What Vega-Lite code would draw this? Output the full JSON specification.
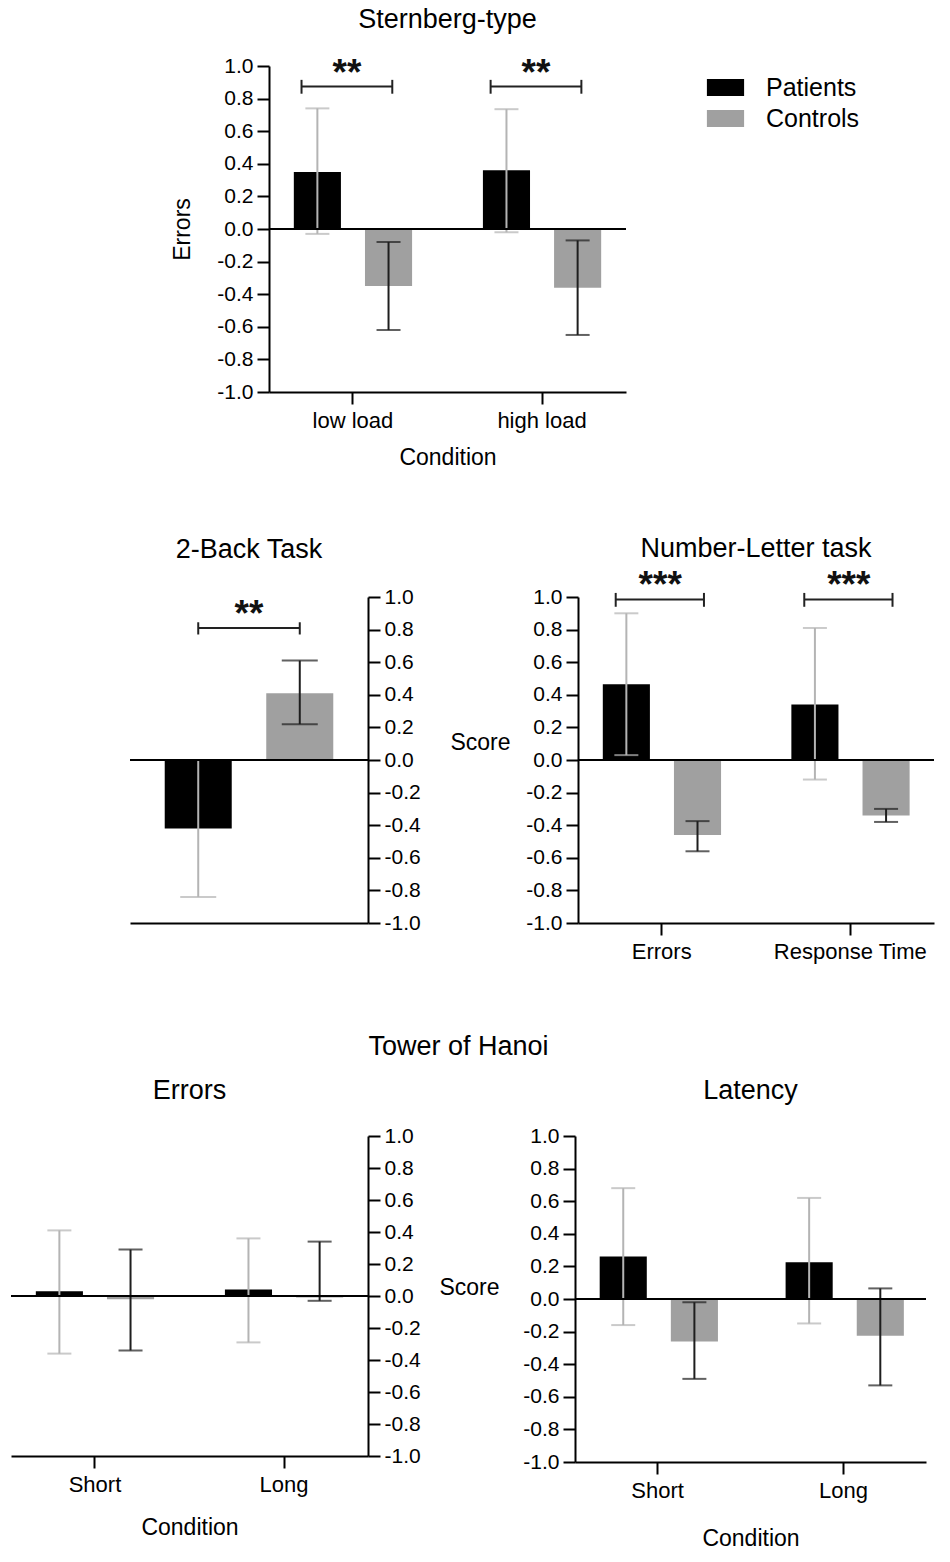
{
  "$schema": "https://vega.github.io/schema/vega-lite/v6.json",
  "padding": {"left": 10, "top": 5, "right": 5, "bottom": 5},
  "config": {
    "font": "Liberation Sans",
    "view": {"stroke": null},
    "axis": {"grid": false, "domainColor": "#000", "domainWidth": 2, "tickColor": "#000", "tickWidth": 2, "tickSize": 12, "labelFontSize": 21, "labelColor": "#000", "labelFont": "Liberation Sans", "titleFontSize": 23, "titleFontWeight": "normal", "titleColor": "#000", "titleFont": "Liberation Sans", "labelPadding": 4, "labelOverlap": false},
    "axisX": {"labelFontSize": 22, "labelPadding": 6, "titlePadding": 17, "labelAngle": 0},
    "title": {"fontSize": 27, "fontWeight": "normal", "color": "#000", "font": "Liberation Sans", "frame": "group", "anchor": "middle", "offset": 24}
  },
  "spacing": 66,
  "resolve": {"scale": {"color": "independent", "fill": "independent", "stroke": "independent"}},
  "vconcat": [
    {
      "hconcat": [
        {"width": 258, "height": 10, "data": {"values": []}, "mark": {"type": "point", "opacity": 0}},
        {
          "width": 357, "height": 326,
          "title": {"text": "Sternberg-type", "offset": 21},
          "data": {"values": [
            {"Condition": "low load", "Group": "Patients", "mean": 0.35, "lo": -0.03, "hi": 0.74},
            {"Condition": "low load", "Group": "Controls", "mean": -0.35, "lo": -0.62, "hi": -0.08},
            {"Condition": "high load", "Group": "Patients", "mean": 0.36, "lo": -0.02, "hi": 0.735},
            {"Condition": "high load", "Group": "Controls", "mean": -0.36, "lo": -0.65, "hi": -0.07}
          ]},
          "layer": [
            {
              "encoding": {
                "x": {"field": "Condition", "type": "nominal", "sort": ["low load", "high load"], "scale": {"domain": ["low load", "high load"], "paddingInner": 0.2, "paddingOuter": 0.044}, "axis": {"title": "Condition", "titlePadding": 15}},
                "xOffset": {"field": "Group", "type": "nominal", "sort": ["Patients", "Controls"], "scale": {"domain": ["Patients", "Controls"], "paddingInner": 0.338, "paddingOuter": 0.232}}
              },
              "layer": [
                {"mark": {"type": "bar"}, "encoding": {
                  "y": {"field": "mean", "type": "quantitative", "scale": {"domain": [-1, 1]}, "axis": {"title": "Errors", "tickCount": 11, "values": [-1, -0.8, -0.6, -0.4, -0.2, 0, 0.2, 0.4, 0.6, 0.8, 1], "labelExpr": "replace(format(datum.value, '.1f'), '\u2212', '-')", "titlePadding": 22}},
                  "color": {"field": "Group", "type": "nominal", "scale": {"domain": ["Patients", "Controls"], "range": ["#000000", "#a0a0a0"]}, "legend": {"orient": "none", "legendX": 441, "legendY": 6, "title": null, "symbolType": "M-1.2,-0.55H1.2V0.55H-1.2Z", "symbolSize": 961, "labelFontSize": 25, "labelOffset": 25, "rowPadding": 2, "padding": 0, "symbolStrokeWidth": 0, "labelColor": "#000", "labelFont": "Liberation Sans", "labelLimit": 300}}
                }},
                {"mark": {"type": "rule", "strokeWidth": 2}, "encoding": {
                  "y": {"field": "lo", "type": "quantitative", "title": "Errors"}, "y2": {"field": "hi"},
                  "stroke": {"field": "Group", "type": "nominal", "scale": {"domain": ["Patients", "Controls"], "range": ["#b4b4b4", "#1e1e1e"]}, "legend": null}
                }},
                {"mark": {"type": "tick", "size": 24, "thickness": 2}, "encoding": {
                  "y": {"field": "hi", "type": "quantitative", "title": "Errors"},
                  "fill": {"field": "Group", "type": "nominal", "scale": {"domain": ["Patients", "Controls"], "range": ["#b4b4b4", "#1e1e1e"]}, "legend": null}
                }},
                {"mark": {"type": "tick", "size": 24, "thickness": 2}, "encoding": {
                  "y": {"field": "lo", "type": "quantitative", "title": "Errors"},
                  "fill": {"field": "Group", "type": "nominal", "scale": {"domain": ["Patients", "Controls"], "range": ["#b4b4b4", "#1e1e1e"]}, "legend": null}
                }}
              ]
            },
            {"data": {"values": [{"baseline": 0}]}, "mark": {"type": "rule", "strokeWidth": 2, "color": "#000"}, "encoding": {"y": {"field": "baseline", "type": "quantitative", "title": "Errors"}}},
            {
              "data": {"values": [
                {"Condition": "low load", "y": 0.875, "ylo": 0.83, "yhi": 0.915, "ty": 0.885, "label": "**"},
                {"Condition": "high load", "y": 0.875, "ylo": 0.83, "yhi": 0.915, "ty": 0.885, "label": "**"}
              ]},
              "layer": [
                {"mark": {"type": "rule", "strokeWidth": 2, "color": "#222"}, "encoding": {
                  "x": {"field": "Condition", "type": "nominal", "sort": ["low load", "high load"], "bandPosition": 0.16},
                  "x2": {"field": "Condition", "bandPosition": 0.76},
                  "y": {"field": "y", "type": "quantitative", "title": "Errors"}
                }},
                {"mark": {"type": "rule", "strokeWidth": 2, "color": "#222"}, "encoding": {
                  "x": {"field": "Condition", "type": "nominal", "sort": ["low load", "high load"], "bandPosition": 0.16},
                  "y": {"field": "ylo", "type": "quantitative", "title": "Errors"}, "y2": {"field": "yhi"}
                }},
                {"mark": {"type": "rule", "strokeWidth": 2, "color": "#222"}, "encoding": {
                  "x": {"field": "Condition", "type": "nominal", "sort": ["low load", "high load"], "bandPosition": 0.76},
                  "y": {"field": "ylo", "type": "quantitative", "title": "Errors"}, "y2": {"field": "yhi"}
                }},
                {"mark": {"type": "text", "fontSize": 37, "fontWeight": "bold", "baseline": "alphabetic", "color": "#111"}, "encoding": {
                  "x": {"field": "Condition", "type": "nominal", "sort": ["low load", "high load"], "bandPosition": 0.46},
                  "y": {"field": "ty", "type": "quantitative", "title": "Errors"},
                  "text": {"field": "label"}
                }}
              ]
            }
          ]
        }
      ],
      "spacing": 0,
      "bounds": "flush",
      "resolve": {"scale": {"color": "independent", "fill": "independent", "stroke": "independent"}}
    },
    {
      "vconcat": [
        {
          "hconcat": [
            {"width": 118, "height": 10, "data": {"values": []}, "mark": {"type": "point", "opacity": 0}},
            {
              "hconcat": [
                {
                  "width": 238, "height": 326,
                  "title": {"text": "2-Back Task", "offset": 22},
                  "data": {"values": [
                    {"Group": "Patients", "mean": -0.42, "lo": -0.84, "hi": 0.0},
                    {"Group": "Controls", "mean": 0.41, "lo": 0.22, "hi": 0.61}
                  ]},
                  "layer": [
                    {
                      "encoding": {
                        "x": {"field": "Group", "type": "nominal", "sort": ["Patients", "Controls"], "scale": {"domain": ["Patients", "Controls"], "paddingInner": 0.34, "paddingOuter": 0.342}, "axis": {"title": null, "labels": false, "ticks": false}}
                      },
                      "layer": [
                        {"mark": {"type": "bar"}, "encoding": {
                          "y": {"field": "mean", "type": "quantitative", "scale": {"domain": [-1, 1]}, "axis": {"orient": "right", "title": null, "tickCount": 11, "values": [-1, -0.8, -0.6, -0.4, -0.2, 0, 0.2, 0.4, 0.6, 0.8, 1], "labelExpr": "replace(format(datum.value, '.1f'), '\u2212', '-')"}},
                          "color": {"field": "Group", "type": "nominal", "scale": {"domain": ["Patients", "Controls"], "range": ["#000000", "#a0a0a0"]}, "legend": null}
                        }},
                        {"mark": {"type": "rule", "strokeWidth": 2}, "encoding": {
                          "y": {"field": "lo", "type": "quantitative", "title": null}, "y2": {"field": "hi"},
                          "stroke": {"field": "Group", "type": "nominal", "scale": {"domain": ["Patients", "Controls"], "range": ["#b4b4b4", "#1e1e1e"]}, "legend": null}
                        }},
                        {"mark": {"type": "tick", "size": 36, "thickness": 2}, "encoding": {
                          "y": {"field": "hi", "type": "quantitative", "title": null},
                          "fill": {"field": "Group", "type": "nominal", "scale": {"domain": ["Patients", "Controls"], "range": ["#b4b4b4", "#1e1e1e"]}, "legend": null}
                        }},
                        {"mark": {"type": "tick", "size": 36, "thickness": 2}, "encoding": {
                          "y": {"field": "lo", "type": "quantitative", "title": null},
                          "fill": {"field": "Group", "type": "nominal", "scale": {"domain": ["Patients", "Controls"], "range": ["#b4b4b4", "#1e1e1e"]}, "legend": null}
                        }}
                      ]
                    },
                    {"data": {"values": [{"baseline": 0}]}, "mark": {"type": "rule", "strokeWidth": 2, "color": "#000"}, "encoding": {"y": {"field": "baseline", "type": "quantitative", "title": null}}},
                    {
                      "data": {"values": [
                        {"from": "Patients", "to": "Controls", "y": 0.81, "ylo": 0.77, "yhi": 0.845, "ty": 0.82, "label": "**"}
                      ]},
                      "layer": [
                        {"mark": {"type": "rule", "strokeWidth": 2, "color": "#222"}, "encoding": {
                          "x": {"field": "from", "type": "nominal", "bandPosition": 0.5},
                          "x2": {"field": "to", "bandPosition": 0.5},
                          "y": {"field": "y", "type": "quantitative", "title": null}
                        }},
                        {"mark": {"type": "rule", "strokeWidth": 2, "color": "#222"}, "encoding": {
                          "x": {"field": "from", "type": "nominal", "bandPosition": 0.5},
                          "y": {"field": "ylo", "type": "quantitative", "title": null}, "y2": {"field": "yhi"}
                        }},
                        {"mark": {"type": "rule", "strokeWidth": 2, "color": "#222"}, "encoding": {
                          "x": {"field": "to", "type": "nominal", "bandPosition": 0.5},
                          "y": {"field": "ylo", "type": "quantitative", "title": null}, "y2": {"field": "yhi"}
                        }},
                        {"mark": {"type": "text", "fontSize": 37, "fontWeight": "bold", "baseline": "alphabetic", "color": "#111"}, "encoding": {
                          "y": {"field": "ty", "type": "quantitative", "title": null},
                          "text": {"field": "label"}
                        }}
                      ]
                    }
                  ]
                },
                {
                  "width": 356, "height": 326,
                  "title": {"text": "Number-Letter task", "offset": 4},
                  "data": {"values": [
                    {"Condition": "Errors", "Group": "Patients", "mean": 0.465, "lo": 0.03, "hi": 0.9},
                    {"Condition": "Errors", "Group": "Controls", "mean": -0.46, "lo": -0.56, "hi": -0.375},
                    {"Condition": "Response Time", "Group": "Patients", "mean": 0.34, "lo": -0.12, "hi": 0.81},
                    {"Condition": "Response Time", "Group": "Controls", "mean": -0.34, "lo": -0.38, "hi": -0.3}
                  ]},
                  "layer": [
                    {
                      "encoding": {
                        "x": {"field": "Condition", "type": "nominal", "sort": ["Errors", "Response Time"], "scale": {"domain": ["Errors", "Response Time"], "paddingInner": 0.2, "paddingOuter": 0.044}, "axis": {"title": null}},
                        "xOffset": {"field": "Group", "type": "nominal", "sort": ["Patients", "Controls"], "scale": {"domain": ["Patients", "Controls"], "paddingInner": 0.338, "paddingOuter": 0.232}}
                      },
                      "layer": [
                        {"mark": {"type": "bar"}, "encoding": {
                          "y": {"field": "mean", "type": "quantitative", "scale": {"domain": [-1, 1]}, "axis": {"title": "Score", "titleAngle": 0, "titleAlign": "center", "titleBaseline": "middle", "titleX": -98, "titleY": 145, "tickCount": 11, "values": [-1, -0.8, -0.6, -0.4, -0.2, 0, 0.2, 0.4, 0.6, 0.8, 1], "labelExpr": "replace(format(datum.value, '.1f'), '\u2212', '-')"}},
                          "color": {"field": "Group", "type": "nominal", "scale": {"domain": ["Patients", "Controls"], "range": ["#000000", "#a0a0a0"]}, "legend": null}
                        }},
                        {"mark": {"type": "rule", "strokeWidth": 2}, "encoding": {
                          "y": {"field": "lo", "type": "quantitative", "title": "Score"}, "y2": {"field": "hi"},
                          "stroke": {"field": "Group", "type": "nominal", "scale": {"domain": ["Patients", "Controls"], "range": ["#b4b4b4", "#1e1e1e"]}, "legend": null}
                        }},
                        {"mark": {"type": "tick", "size": 24, "thickness": 2}, "encoding": {
                          "y": {"field": "hi", "type": "quantitative", "title": "Score"},
                          "fill": {"field": "Group", "type": "nominal", "scale": {"domain": ["Patients", "Controls"], "range": ["#b4b4b4", "#1e1e1e"]}, "legend": null}
                        }},
                        {"mark": {"type": "tick", "size": 24, "thickness": 2}, "encoding": {
                          "y": {"field": "lo", "type": "quantitative", "title": "Score"},
                          "fill": {"field": "Group", "type": "nominal", "scale": {"domain": ["Patients", "Controls"], "range": ["#b4b4b4", "#1e1e1e"]}, "legend": null}
                        }}
                      ]
                    },
                    {"data": {"values": [{"baseline": 0}]}, "mark": {"type": "rule", "strokeWidth": 2, "color": "#000"}, "encoding": {"y": {"field": "baseline", "type": "quantitative", "title": "Score"}}},
                    {
                      "data": {"values": [
                        {"Condition": "Errors", "y": 0.985, "ylo": 0.94, "yhi": 1.025, "ty": 1.0, "label": "***"},
                        {"Condition": "Response Time", "y": 0.985, "ylo": 0.94, "yhi": 1.025, "ty": 1.0, "label": "***"}
                      ]},
                      "layer": [
                        {"mark": {"type": "rule", "strokeWidth": 2, "color": "#222"}, "encoding": {
                          "x": {"field": "Condition", "type": "nominal", "sort": ["Errors", "Response Time"], "bandPosition": 0.195},
                          "x2": {"field": "Condition", "bandPosition": 0.78},
                          "y": {"field": "y", "type": "quantitative", "title": "Score"}
                        }},
                        {"mark": {"type": "rule", "strokeWidth": 2, "color": "#222"}, "encoding": {
                          "x": {"field": "Condition", "type": "nominal", "sort": ["Errors", "Response Time"], "bandPosition": 0.195},
                          "y": {"field": "ylo", "type": "quantitative", "title": "Score"}, "y2": {"field": "yhi"}
                        }},
                        {"mark": {"type": "rule", "strokeWidth": 2, "color": "#222"}, "encoding": {
                          "x": {"field": "Condition", "type": "nominal", "sort": ["Errors", "Response Time"], "bandPosition": 0.78},
                          "y": {"field": "ylo", "type": "quantitative", "title": "Score"}, "y2": {"field": "yhi"}
                        }},
                        {"mark": {"type": "text", "fontSize": 37, "fontWeight": "bold", "baseline": "alphabetic", "color": "#111"}, "encoding": {
                          "x": {"field": "Condition", "type": "nominal", "sort": ["Errors", "Response Time"], "bandPosition": 0.49},
                          "y": {"field": "ty", "type": "quantitative", "title": "Score"},
                          "text": {"field": "label"}
                        }}
                      ]
                    }
                  ]
                }
              ],
              "spacing": 210,
              "bounds": "flush",
              "resolve": {"scale": {"color": "independent", "fill": "independent", "stroke": "independent"}}
            }
          ],
          "spacing": 0,
          "resolve": {"scale": {"color": "independent", "fill": "independent", "stroke": "independent"}}
        },
        {
          "title": {"text": "Tower of Hanoi", "offset": 16, "dx": -10, "frame": "bounds"},
          "hconcat": [
            {
              "width": 357, "height": 320,
              "title": {"text": "Errors", "offset": 20},
              "data": {"values": [
                {"Condition": "Short", "Group": "Patients", "mean": 0.03, "lo": -0.36, "hi": 0.41},
                {"Condition": "Short", "Group": "Controls", "mean": -0.02, "lo": -0.34, "hi": 0.29},
                {"Condition": "Long", "Group": "Patients", "mean": 0.04, "lo": -0.29, "hi": 0.36},
                {"Condition": "Long", "Group": "Controls", "mean": -0.01, "lo": -0.03, "hi": 0.34}
              ]},
              "layer": [
                {
                  "encoding": {
                    "x": {"field": "Condition", "type": "nominal", "sort": ["Short", "Long"], "scale": {"domain": ["Short", "Long"], "paddingInner": 0.2, "paddingOuter": 0.044}, "axis": {"title": "Condition", "titlePadding": 21}},
                    "xOffset": {"field": "Group", "type": "nominal", "sort": ["Patients", "Controls"], "scale": {"domain": ["Patients", "Controls"], "paddingInner": 0.338, "paddingOuter": 0.232}}
                  },
                  "layer": [
                    {"mark": {"type": "bar"}, "encoding": {
                      "y": {"field": "mean", "type": "quantitative", "scale": {"domain": [-1, 1]}, "axis": {"orient": "right", "title": null, "tickCount": 11, "values": [-1, -0.8, -0.6, -0.4, -0.2, 0, 0.2, 0.4, 0.6, 0.8, 1], "labelExpr": "replace(format(datum.value, '.1f'), '\u2212', '-')"}},
                      "color": {"field": "Group", "type": "nominal", "scale": {"domain": ["Patients", "Controls"], "range": ["#000000", "#a0a0a0"]}, "legend": null}
                    }},
                    {"mark": {"type": "rule", "strokeWidth": 2}, "encoding": {
                      "y": {"field": "lo", "type": "quantitative", "title": null}, "y2": {"field": "hi"},
                      "stroke": {"field": "Group", "type": "nominal", "scale": {"domain": ["Patients", "Controls"], "range": ["#b4b4b4", "#1e1e1e"]}, "legend": null}
                    }},
                    {"mark": {"type": "tick", "size": 24, "thickness": 2}, "encoding": {
                      "y": {"field": "hi", "type": "quantitative", "title": null},
                      "fill": {"field": "Group", "type": "nominal", "scale": {"domain": ["Patients", "Controls"], "range": ["#b4b4b4", "#1e1e1e"]}, "legend": null}
                    }},
                    {"mark": {"type": "tick", "size": 24, "thickness": 2}, "encoding": {
                      "y": {"field": "lo", "type": "quantitative", "title": null},
                      "fill": {"field": "Group", "type": "nominal", "scale": {"domain": ["Patients", "Controls"], "range": ["#b4b4b4", "#1e1e1e"]}, "legend": null}
                    }}
                  ]
                },
                {"data": {"values": [{"baseline": 0}]}, "mark": {"type": "rule", "strokeWidth": 2, "color": "#000"}, "encoding": {"y": {"field": "baseline", "type": "quantitative", "title": null}}}
              ]
            },
            {
              "width": 351, "height": 326,
              "title": {"text": "Latency", "offset": 20},
              "data": {"values": [
                {"Condition": "Short", "Group": "Patients", "mean": 0.26, "lo": -0.16, "hi": 0.68},
                {"Condition": "Short", "Group": "Controls", "mean": -0.26, "lo": -0.49, "hi": -0.02},
                {"Condition": "Long", "Group": "Patients", "mean": 0.225, "lo": -0.15, "hi": 0.62},
                {"Condition": "Long", "Group": "Controls", "mean": -0.225, "lo": -0.53, "hi": 0.065}
              ]},
              "layer": [
                {
                  "encoding": {
                    "x": {"field": "Condition", "type": "nominal", "sort": ["Short", "Long"], "scale": {"domain": ["Short", "Long"], "paddingInner": 0.2, "paddingOuter": 0.044}, "axis": {"title": "Condition", "titlePadding": 26}},
                    "xOffset": {"field": "Group", "type": "nominal", "sort": ["Patients", "Controls"], "scale": {"domain": ["Patients", "Controls"], "paddingInner": 0.338, "paddingOuter": 0.232}}
                  },
                  "layer": [
                    {"mark": {"type": "bar"}, "encoding": {
                      "y": {"field": "mean", "type": "quantitative", "scale": {"domain": [-1, 1]}, "axis": {"title": "Score", "titleAngle": 0, "titleAlign": "center", "titleBaseline": "middle", "titleX": -106, "titleY": 151, "tickCount": 11, "values": [-1, -0.8, -0.6, -0.4, -0.2, 0, 0.2, 0.4, 0.6, 0.8, 1], "labelExpr": "replace(format(datum.value, '.1f'), '\u2212', '-')"}},
                      "color": {"field": "Group", "type": "nominal", "scale": {"domain": ["Patients", "Controls"], "range": ["#000000", "#a0a0a0"]}, "legend": null}
                    }},
                    {"mark": {"type": "rule", "strokeWidth": 2}, "encoding": {
                      "y": {"field": "lo", "type": "quantitative", "title": "Score"}, "y2": {"field": "hi"},
                      "stroke": {"field": "Group", "type": "nominal", "scale": {"domain": ["Patients", "Controls"], "range": ["#b4b4b4", "#1e1e1e"]}, "legend": null}
                    }},
                    {"mark": {"type": "tick", "size": 24, "thickness": 2}, "encoding": {
                      "y": {"field": "hi", "type": "quantitative", "title": "Score"},
                      "fill": {"field": "Group", "type": "nominal", "scale": {"domain": ["Patients", "Controls"], "range": ["#b4b4b4", "#1e1e1e"]}, "legend": null}
                    }},
                    {"mark": {"type": "tick", "size": 24, "thickness": 2}, "encoding": {
                      "y": {"field": "lo", "type": "quantitative", "title": "Score"},
                      "fill": {"field": "Group", "type": "nominal", "scale": {"domain": ["Patients", "Controls"], "range": ["#b4b4b4", "#1e1e1e"]}, "legend": null}
                    }}
                  ]
                },
                {"data": {"values": [{"baseline": 0}]}, "mark": {"type": "rule", "strokeWidth": 2, "color": "#000"}, "encoding": {"y": {"field": "baseline", "type": "quantitative", "title": "Score"}}}
              ]
            }
          ],
          "spacing": 207,
          "bounds": "flush",
          "resolve": {"scale": {"color": "independent", "fill": "independent", "stroke": "independent"}}
        }
      ],
      "spacing": 71,
      "resolve": {"scale": {"color": "independent", "fill": "independent", "stroke": "independent"}}
    }
  ]
}
